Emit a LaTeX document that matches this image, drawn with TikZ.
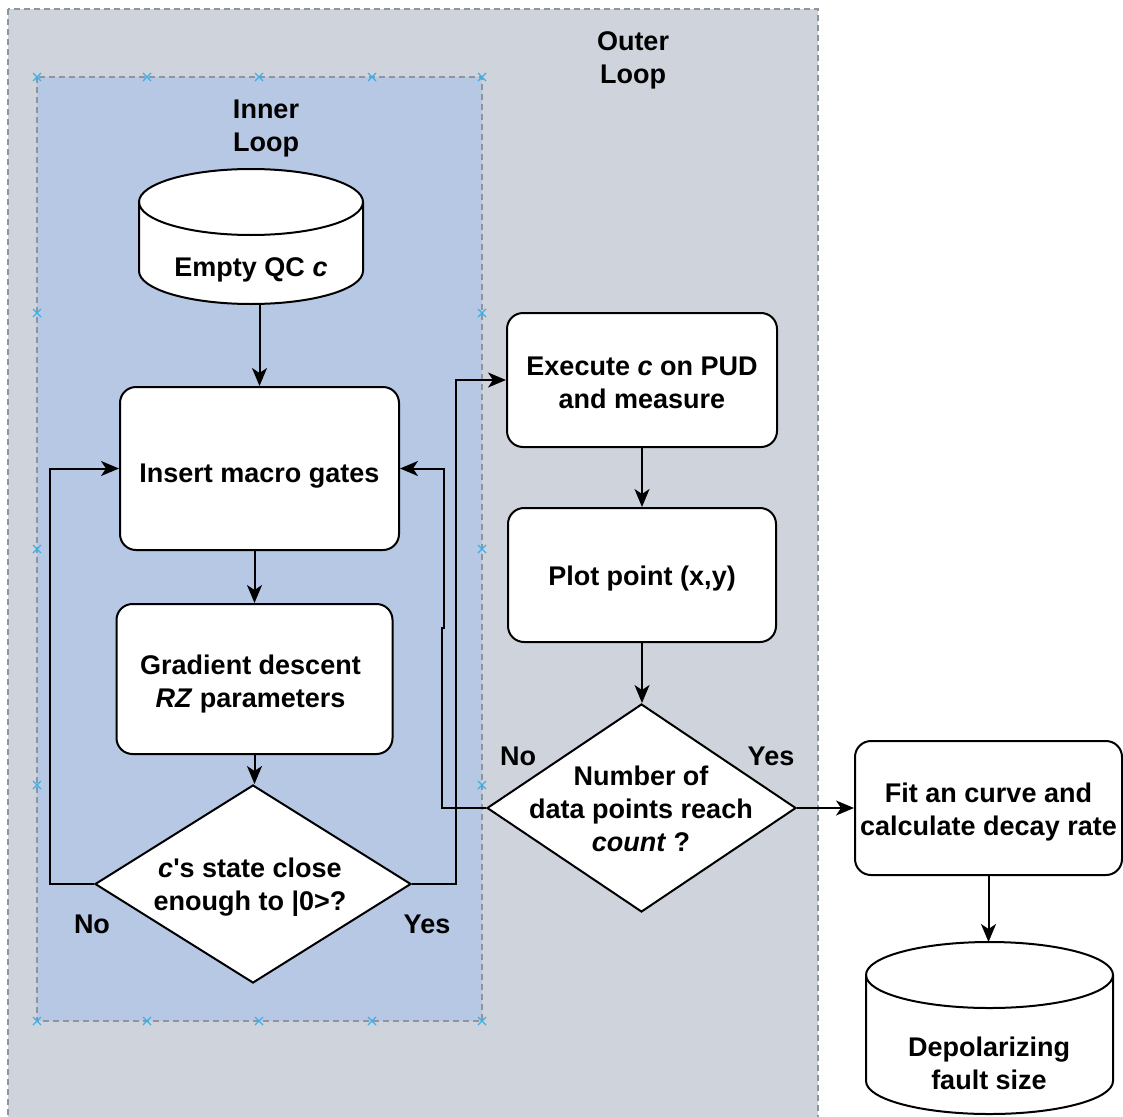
\documentclass[tikz,border=0pt]{standalone}
\usepackage{fontspec}
\setmainfont{Liberation Sans}
\usetikzlibrary{shapes.geometric,arrows.meta,calc}

\definecolor{outerbg}{HTML}{CFD4DC}
\definecolor{innerbg}{HTML}{B6C8E4}
\definecolor{framegray}{HTML}{8F959C}
\definecolor{handleblue}{HTML}{3BB0E8}

% invisible strut that lowers the text inside a box
\newcommand{\padtop}[1]{\rule{0pt}{#1}}

\begin{document}
\begin{tikzpicture}[x=1pt,y=-1pt,
  every node/.style={font=\fontsize{27pt}{33pt}\selectfont\bfseries, text=black, align=center},
  proc/.style={draw=black, line width=2pt, fill=white, rounded corners=16pt, inner sep=0pt},
  decision/.style={draw=black, line width=2pt, fill=white, shape=diamond, inner sep=0pt},
  holder/.style={inner sep=0pt, outer sep=0pt},
  cylline/.style={draw=black, line width=2pt, fill=white},
  link/.style={draw=black, line width=2pt, -{Stealth[length=18pt,width=15pt,inset=5pt]}},
  groupframe/.style={dash pattern=on 6pt off 4pt, draw=framegray, line width=1.4pt},
  handlemark/.style={draw=handleblue, line width=1.2pt}
]
\useasboundingbox (0,0) rectangle (1123,1116);
\clip (0,0) rectangle (1123,1116);

% group containers
\fill[white] (0,0) rectangle (1123,1116);
\draw[groupframe, fill=outerbg] (8,9) rectangle (818,1140);
\draw[groupframe, fill=innerbg] (37,77) rectangle (482,1021);

% selection handles of the inner group
\foreach \x in {37,147,259,372,482} {
  \draw[handlemark] (\x-4,73) -- (\x+4,81) (\x-4,81) -- (\x+4,73);
  \draw[handlemark] (\x-4,1017) -- (\x+4,1025) (\x-4,1025) -- (\x+4,1017);
}
\foreach \y in {313,549,785} {
  \draw[handlemark] (33,\y-4) -- (41,\y+4) (33,\y+4) -- (41,\y-4);
  \draw[handlemark] (478,\y-4) -- (486,\y+4) (478,\y+4) -- (486,\y-4);
}

% group titles
\node (outerlbl) at (633,60.5) {Outer\\Loop};
\node (innerlbl) at (266,128.5) {Inner\\Loop};

% data store: empty circuit
\node[holder, minimum width=224pt, minimum height=135pt] (qc) at (251,236.5) {};
\draw[cylline] ([yshift=-33pt]qc.north west) -- ([yshift=33pt]qc.south west)
  arc[start angle=180, end angle=360, x radius=112pt, y radius=33pt]
  -- ([yshift=-33pt]qc.north east)
  arc[start angle=0, end angle=180, x radius=112pt, y radius=33pt] -- cycle;
\draw[line width=2pt] ([yshift=-33pt]qc.north west)
  arc[start angle=180, end angle=360, x radius=112pt, y radius=33pt];
\node (qct) at (251,270) {Empty QC \textit{c}};

% inner loop steps
\node[proc, minimum width=279pt, minimum height=163pt] (ins) at (259.5,468.5) {\padtop{33.7pt}Insert macro gates};
\node[proc, minimum width=276pt, minimum height=150pt] (gd) at (254.5,679)
  {\padtop{29.7pt}Gradient descent\hspace*{8pt}\\\textit{RZ} parameters\hspace*{8pt}};
\node[decision, minimum width=316pt, minimum height=198pt] (d1) at (253,884) {};
\node (d1t) at (250,887.5) {\textit{c}\textquotesingle s state close\\enough to |0>?};

% outer loop steps
\node[proc, minimum width=270pt, minimum height=134pt] (exe) at (642,380)
  {\padtop{23.7pt}Execute \textit{c} on PUD\\and measure};
\node[proc, minimum width=268pt, minimum height=134pt] (plot) at (642,575) {\padtop{25.7pt}Plot point (x,y)};
\node[decision, minimum width=309pt, minimum height=208pt] (d2) at (641.5,808) {};
\node (d2t) at (641,808.5) {Number of\\data points reach\\\textit{count} ?};

% final steps
\node[proc, minimum width=267pt, minimum height=134pt] (fit) at (988.5,808)
  {\padtop{27.7pt}Fit an curve and\\calculate decay rate};
\node[holder, minimum width=247pt, minimum height=172pt] (dep) at (989.5,1028) {};
\draw[cylline] ([yshift=-33pt]dep.north west) -- ([yshift=33pt]dep.south west)
  arc[start angle=180, end angle=360, x radius=123.5pt, y radius=33pt]
  -- ([yshift=-33pt]dep.north east)
  arc[start angle=0, end angle=180, x radius=123.5pt, y radius=33pt] -- cycle;
\draw[line width=2pt] ([yshift=-33pt]dep.north west)
  arc[start angle=180, end angle=360, x radius=123.5pt, y radius=33pt];
\node (dept) at (989,1063) {Depolarizing\\fault size};

% branch labels
\node (no1) at (92,924) {No};
\node (yes1) at (427,924) {Yes};
\node (no2) at (518,756) {No};
\node (yes2) at (771,756) {Yes};

% connectors
\draw[link] (qc.south -| ins.north) -- (ins.north);
\draw[link] (ins.south -| gd.north) -- (gd.north);
\draw[link] (gd.south) -- (gd.south |- d1.north);
\draw[link] (d1.west) -- (50,884) |- (ins.west);
\draw[link] (d1.east) -- (456,884) |- (exe.west);
\draw[link] (exe.south) -- (plot.north);
\draw[link] (plot.south) -- (plot.south |- d2.north);
\draw[link] (d2.west) -- (442,808) -- (442,628) -- (444,628) |- (ins.east);
\draw[link] (d2.east) -- (fit.west);
\draw[link] (fit.south) -- (fit.south |- dep.north);
\end{tikzpicture}
\end{document}
